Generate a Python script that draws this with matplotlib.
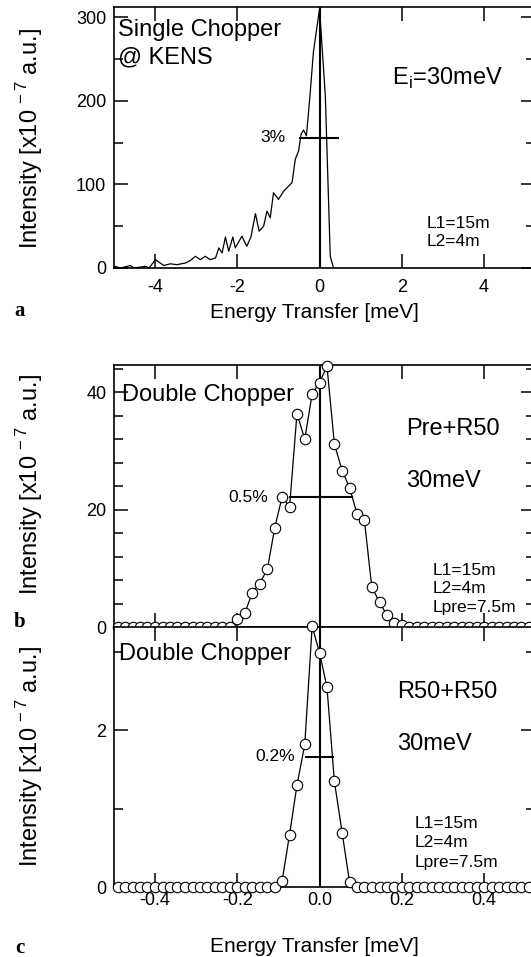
import matplotlib
matplotlib.use("Agg")
from matplotlib import pyplot as plt
from matplotlib.ticker import MultipleLocator, FormatStrFormatter

plt.rcParams['font.family'] = ['Liberation Sans', 'DejaVu Sans']
plt.rcParams['mathtext.fontset'] = 'custom'
plt.rcParams['mathtext.rm'] = 'Liberation Sans'
plt.rcParams['axes.unicode_minus'] = False

# panel a: single chopper @ KENS
single_e = [-4.99, -4.84, -4.60, -4.52, -4.23, -4.15, -3.99, -3.79, -3.63, -3.47,
            -3.26, -3.14, -3.02, -2.90, -2.78, -2.66, -2.53, -2.45, -2.37, -2.29,
            -2.21, -2.11, -2.05, -1.89, -1.77, -1.67, -1.56, -1.47, -1.36, -1.28,
            -1.20, -1.12, -1.00, -0.87, -0.67, -0.59, -0.51, -0.45, -0.39, -0.32,
            -0.24, -0.15, 0.00, 0.14, 0.26, 0.34]
single_i = [2, 0, 3, 0, 2, 0, 10, 3, 5, 4,
            6, 9, 14, 10, 14, 10, 12, 24, 18, 37,
            20, 37, 24, 38, 26, 37, 65, 44, 50, 68,
            60, 90, 82, 92, 102, 130, 140, 160, 165, 158,
            202, 258, 310, 206, 14, 0]
single_fwhm = [-0.47, 0.46]
single_half = 156

# panels b, c: double chopper, same energy grid
grid_e = [-0.491, -0.473, -0.455, -0.437, -0.419, -0.400, -0.382, -0.364, -0.346, -0.328,
          -0.309, -0.291, -0.273, -0.255, -0.237, -0.218, -0.200, -0.182, -0.164, -0.146,
          -0.127, -0.109, -0.091, -0.073, -0.055, -0.036, -0.018, 0.000, 0.018, 0.036,
          0.055, 0.073, 0.091, 0.109, 0.127, 0.146, 0.164, 0.182, 0.200, 0.218,
          0.237, 0.255, 0.273, 0.291, 0.309, 0.328, 0.346, 0.364, 0.382, 0.400,
          0.419, 0.437, 0.455, 0.473, 0.491, 0.510]
pre_i = [0, 0, 0, 0, 0, 0, 0, 0, 0, 0,
         0, 0, 0, 0, 0, 0, 1.3, 2.3, 5.8, 7.4,
         9.8, 16.9, 22.2, 20.4, 36.3, 32.0, 39.7, 41.6, 44.4, 31.2,
         26.6, 23.7, 19.3, 18.2, 6.8, 4.2, 2.0, 0.7, 0.3, 0,
         0, 0, 0, 0, 0, 0, 0, 0, 0, 0,
         0, 0, 0, 0, 0, 0]
pre_fwhm = [-0.071, 0.079]
pre_half = 22.2
r50_i = [0, 0, 0, 0, 0, 0, 0, 0, 0, 0,
         0, 0, 0, 0, 0, 0, 0, 0, 0, 0,
         0, 0, 0.08, 0.67, 1.30, 1.82, 3.33, 2.99, 2.55, 1.35,
         0.69, 0.06, 0, 0, 0, 0, 0, 0, 0, 0,
         0, 0, 0, 0, 0, 0, 0, 0, 0, 0,
         0, 0, 0, 0, 0, 0]
r50_fwhm = [-0.032, 0.032]
r50_half = 1.66

W, H = 531, 957
fig = plt.figure(figsize=(W / 100, H / 100), dpi=100)


def px_axes(top, bottom, left=114, right=535):
    return fig.add_axes([left / W, 1 - bottom / H, (right - left) / W, (bottom - top) / H])


def style(ax, xpad):
    ax.tick_params(which='both', direction='in', top=True, right=True, width=1.1,
                   labelsize=13, colors='black')
    ax.tick_params(which='major', length=10)
    ax.tick_params(which='minor', length=6.5)
    ax.tick_params(axis='y', pad=5.5)
    ax.tick_params(axis='x', pad=xpad)
    for s in ax.spines.values():
        s.set_linewidth(1.2)
    ax.axvline(0, color='black', lw=1.5, zorder=2.6)


# ---- a ----
ax = px_axes(7, 268)
ax.plot(single_e, single_i, color='black', lw=0.9)
ax.plot(single_fwhm, [single_half, single_half], color='black', lw=1.5)
ax.set_xlim(-5, 5.24)
ax.set_ylim(0, 312)
ax.xaxis.set_major_locator(MultipleLocator(2))
ax.yaxis.set_major_locator(MultipleLocator(100))
ax.yaxis.set_minor_locator(MultipleLocator(50))
style(ax, 8)
# multi-line texts: y is the baseline of the last line
ax.text(-4.9, 245, 'Single Chopper\n@ KENS', fontsize=17, linespacing=1.3)
ax.text(1.76, 219, r'E$_{\mathrm{i}}$=30meV', fontsize=17)
ax.text(2.61, 26.3, 'L1=15m\nL2=4m', fontsize=12.5, linespacing=1.28)
ax.text(-0.84, 151, '3%', fontsize=12.5, ha='right')


def double_panel(top, bottom, vals, fwhm, half, ymax):
    ax = px_axes(top, bottom)
    ax.plot(grid_e, vals, color='black', lw=0.9, marker='o', ms=7.5, mfc='white',
            mec='black', mew=0.8, clip_on=False, zorder=3)
    ax.plot(fwhm, [half, half], color='black', lw=1.5, zorder=2.6)
    ax.set_xlim(-0.5, 0.524)
    ax.set_ylim(0, ymax)
    ax.xaxis.set_major_locator(MultipleLocator(0.2))
    ax.xaxis.set_major_formatter(FormatStrFormatter('%.1f'))
    return ax


# ---- b ----
ax = double_panel(365, 627, pre_i, pre_fwhm, pre_half, 44.6)
ax.yaxis.set_major_locator(MultipleLocator(20))
ax.yaxis.set_minor_locator(MultipleLocator(4))
style(ax, 5)
ax.tick_params(axis='x', labelbottom=False)
ax.text(-0.480, 38.4, 'Double Chopper', fontsize=17)
ax.text(0.210, 32.7, 'Pre+R50', fontsize=17)
ax.text(0.210, 23.8, '30meV', fontsize=17)
ax.text(0.274, 2.6, 'L1=15m\nL2=4m\nLpre=7.5m', fontsize=12.5, linespacing=1.28)
ax.text(-0.125, 21.3, '0.5%', fontsize=12.5, ha='right')

# ---- c ----
ax = double_panel(627, 887, r50_i, r50_fwhm, r50_half, 3.32)
ax.yaxis.set_major_locator(MultipleLocator(2))
ax.yaxis.set_minor_locator(MultipleLocator(1))
style(ax, 3.5)
ax.text(-0.487, 2.90, 'Double Chopper', fontsize=17)
ax.text(0.188, 2.41, 'R50+R50', fontsize=17)
ax.text(0.188, 1.75, '30meV', fontsize=17)
ax.text(0.232, 0.26, 'L1=15m\nL2=4m\nLpre=7.5m', fontsize=12.5, linespacing=1.35)
ax.text(-0.059, 1.61, '0.2%', fontsize=12.5, ha='right')

# axis labels and panel letters
ylab = r'Intensity [x10$^{\mathrm{\,-7}}$ a.u.]'
for yc in (139, 485, 757):
    fig.text(30 / W, 1 - yc / H, ylab, fontsize=17, rotation=90, ha='center', va='center')
for yb in (318, 952):
    fig.text(314.5 / W, 1 - yb / H, 'Energy Transfer [meV]', fontsize=15, ha='center',
             va='baseline')
for letter, yb in (('a', 316), ('b', 627), ('c', 953)):
    fig.text(20 / W, 1 - yb / H, letter, fontsize=15, fontweight='bold',
             family='Liberation Serif', ha='center', va='baseline')

fig.savefig('out.png', dpi=100)
